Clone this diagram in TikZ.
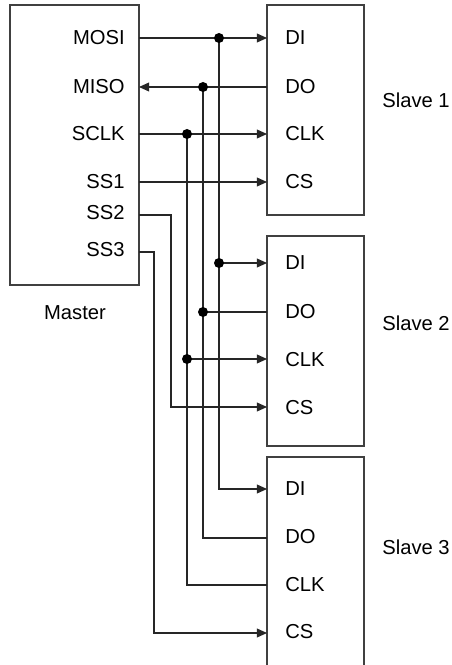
\documentclass[tikz,border=0pt]{standalone}
\usepackage{fontspec}
\setmainfont{Liberation Sans}
\usetikzlibrary{arrows.meta}

\tikzset{
  box/.style={draw=black!75, line width=0.7pt, inner sep=0pt},
  wire/.style={line width=0.6pt, black!85},
  sig/.style={wire, -{Triangle[length=5.7pt, width=5pt]}},
  junc/.style={circle, fill=black, inner sep=0pt, minimum size=0.2cm},
  pin/.style={inner sep=0pt, font=\fontsize{11.5}{13}\selectfont}
}

\begin{document}
\begin{tikzpicture}[x=0.02cm, y=-0.02cm]
    \useasboundingbox (0,0) rectangle (451,665);

    % --- Master ---
    \node[box, minimum width=2.58cm, minimum height=5.6cm] (master) at (74.5,145) {};
    \node[pin, anchor=east] (lMOSI) at (125,38) {MOSI};
    \node[pin, anchor=east] (lMISO) at (125,87) {MISO};
    \node[pin, anchor=east] (lSCLK) at (125,134) {SCLK};
    \node[pin, anchor=east] (lSS1) at (125,182) {SS1};
    \node[pin, anchor=east] (lSS2) at (125,213) {SS2};
    \node[pin, anchor=east] (lSS3) at (125,250) {SS3};
    \node[pin] (lMaster) at (75,313) {Master};

    \coordinate (mMOSI) at (139,38);
    \coordinate (mMISO) at (139,87);
    \coordinate (mSCLK) at (139,134);
    \coordinate (mSS1) at (139,182);
    \coordinate (mSS2) at (139,215);
    \coordinate (mSS3) at (139,252);

    % --- Slave 1 ---
    \node[box, minimum width=1.94cm, minimum height=4.2cm] (slave1) at (315.5,110) {};
    \node[pin, anchor=west] (l1DI) at (285,38) {DI};
    \node[pin, anchor=west] (l1DO) at (285,87) {DO};
    \node[pin, anchor=west] (l1CLK) at (285,134) {CLK};
    \node[pin, anchor=west] (l1CS) at (285,182) {CS};
    \node[pin, anchor=west] (lSlave1) at (382,100) {Slave 1};

    % --- Slave 2 ---
    \node[box, minimum width=1.94cm, minimum height=4.2cm] (slave2) at (315.5,341) {};
    \node[pin, anchor=west] (l2DI) at (285,263) {DI};
    \node[pin, anchor=west] (l2DO) at (285,312) {DO};
    \node[pin, anchor=west] (l2CLK) at (285,360) {CLK};
    \node[pin, anchor=west] (l2CS) at (285,408) {CS};
    \node[pin, anchor=west] (lSlave2) at (382,323) {Slave 2};

    % --- Slave 3 (open at the bottom) ---
    \draw[box] (267,665) -- (267,457) -- (364,457) -- (364,665);
    \node[pin, anchor=west] (l3DI) at (285,489) {DI};
    \node[pin, anchor=west] (l3DO) at (285,537) {DO};
    \node[pin, anchor=west] (l3CLK) at (285,585) {CLK};
    \node[pin, anchor=west] (l3CS) at (285,632) {CS};
    \node[pin, anchor=west] (lSlave3) at (382,547) {Slave 3};

    \foreach \s/\y in {1/0, 2/225, 3/451} {
        \coordinate (s\s DI) at (267,38+\y);
        \coordinate (s\s DO) at (267,87+\y);
        \coordinate (s\s CLK) at (267,134+\y);
        \coordinate (s\s CS) at (267,182+\y);
    }

    % Punti di giunzione
    \coordinate (dMOSI1) at (219,38);
    \coordinate (dMOSI2) at (219,263);
    \coordinate (dMISO1) at (203,87);
    \coordinate (dMISO2) at (203,312);
    \coordinate (dSCLK1) at (187,134);
    \coordinate (dSCLK2) at (187,359);
    \coordinate (kSS2) at (171,215);
    \coordinate (kSS3) at (154,252);

    % MOSI
    \draw[sig] (mMOSI) -- (s1DI);
    \draw[sig] (dMOSI1) |- (s3DI);
    \draw[sig] (dMOSI2) -- (s2DI);

    % MISO
    \draw[sig] (s1DO) -- (mMISO);
    \draw[wire] (dMISO1) |- (s3DO);
    \draw[wire] (s2DO) -- (dMISO2);

    % SCLK
    \draw[sig] (mSCLK) -- (s1CLK);
    \draw[wire] (dSCLK1) |- (s3CLK);
    \draw[sig] (dSCLK2) -- (s2CLK);

    % SS1, SS2, SS3
    \draw[sig] (mSS1) -- (s1CS);
    \draw[sig] (mSS2) -- (kSS2) |- (s2CS);
    \draw[sig] (mSS3) -- (kSS3) |- (s3CS);

    % Giunzioni
    \foreach \d in {dMOSI1, dMOSI2, dMISO1, dMISO2, dSCLK1, dSCLK2}
        \node[junc] at (\d) {};
\end{tikzpicture}
\end{document}
